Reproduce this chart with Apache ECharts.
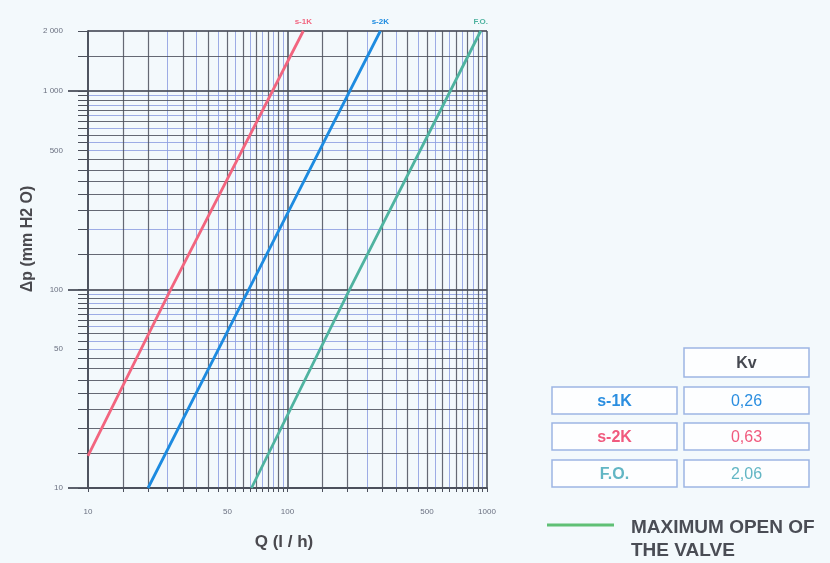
<!DOCTYPE html>
<html><head><meta charset="utf-8">
<script src="https://cdn.jsdelivr.net/npm/echarts@6/dist/echarts.min.js"></script>
<style>html,body{margin:0;padding:0;background:#f3f9fc}#c{width:830px;height:563px}</style>
</head><body><div id="c"></div>
<script>
// ---- data ----
const seriesNames = ['s-1K', 's-2K', 'F.O.'];
const s1kQ = [10, 26, 120];
const s1kDp = [14.5, 100, 2000];
const s2kQ = [20, 64, 292];
const s2kDp = [10, 100, 2000];
const foQ = [66, 205, 930];
const foDp = [10, 100, 2000];
const xTickLabels = [10, 50, 100, 500, 1000];
const yTickLabels = [10, 50, 100, 500, 1000, 2000];
const gridMajorQ = [10, 100, 1000];
const gridDarkQ = [15, 20, 30, 40, 50, 60, 70, 80, 90, 150, 200, 300, 400, 500, 600, 700, 800, 900];
const gridLightQ = [25, 35, 45, 55, 65, 75, 85, 95, 250, 350, 450, 550, 650, 750, 850, 950];
const gridMajorDp = [10, 100, 1000, 2000];
const longTickDp = [10, 100, 1000];
const gridDarkDp = [15, 20, 25, 30, 35, 40, 45, 60, 70, 80, 90, 150, 250, 300, 350, 400, 450, 600, 700, 800, 900, 1500];
const gridLightDp = [50, 55, 65, 75, 85, 95, 200, 500, 550, 650, 750, 850, 950];
const tableHeader = 'Kv';
const tableNames = ['s-1K', 's-2K', 'F.O.'];
const tableKv = ['0,26', '0,63', '2,06'];
const legendText = ['MAXIMUM OPEN OF', 'THE VALVE'];
const xTitle = 'Q (l / h)';
const yTitle = 'Δp (mm H2 O)';

// ---- styling ----
const lineColors = ['#f2657f', '#1d8be0', '#4fb3a0'];
const tableColors = ['#2b8ee0', '#f05a7e', '#62b6c4'];
const dark = '#4b505c';
const light = '#8d9fe0';

const chart = echarts.init(document.getElementById('c'), null, {renderer: 'canvas'});

function zip(a, b) { return a.map((v, i) => [v, b[i]]); }
const seriesData = [zip(s1kQ, s1kDp), zip(s2kQ, s2kDp), zip(foQ, foDp)];

function vLines(vals, color, width) {
  return vals.map(v => ({xAxis: v, lineStyle: {color, width, type: 'solid', opacity: 0.85}}));
}
function hLines(vals, color, width) {
  return vals.map(v => ({yAxis: v, lineStyle: {color, width, type: 'solid', opacity: 0.85}}));
}

const gridMarks = [].concat(
  vLines(gridLightQ, light, 1),
  hLines(gridLightDp, light, 1),
  vLines(gridDarkQ, dark, 1.2),
  hLines(gridDarkDp, dark, 1.2),
  vLines(gridMajorQ, dark, 1.8),
  hLines(gridMajorDp, dark, 1.8)
);

const series = [{
  type: 'line', data: [], silent: true, z: 1,
  markLine: {silent: true, symbol: 'none', label: {show: false}, animation: false, data: gridMarks}
}].concat(seriesData.map((d, i) => ({
  name: seriesNames[i], type: 'line', data: d, z: 5,
  showSymbol: false, symbol: 'none', clip: false,
  lineStyle: {color: lineColors[i], width: 2.8},
  markPoint: {
    symbol: 'circle', symbolSize: 1, silent: true, animation: false,
    itemStyle: {color: 'rgba(0,0,0,0)'},
    label: {show: true, position: 'top', distance: 5, fontSize: 8, color: lineColors[i],
      fontFamily: 'Liberation Sans', fontWeight: 'bold', formatter: seriesNames[i]},
    data: [{coord: d[d.length - 1]}]
  },
  animation: false
})));

const graphics = [];
// axis titles
graphics.push({type: 'text', x: 28, y: 239, rotation: Math.PI / 2,
  style: {text: yTitle, fill: '#4a4a4f', font: 'bold 16px "Liberation Sans"', align: 'center', verticalAlign: 'middle', textAlign: 'center', textVerticalAlign: 'middle'}});
graphics.push({type: 'text', x: 284, y: 542,
  style: {text: xTitle, fill: '#4a4a4f', font: 'bold 17px "Liberation Sans"', align: 'center', verticalAlign: 'middle', textAlign: 'center', textVerticalAlign: 'middle'}});

// table
const boxStyle = {fill: '#fdfeff', stroke: '#9db5e3', lineWidth: 1.5};
function cell(x, y, w, h, text, color, weight) {
  graphics.push({type: 'rect', shape: {x, y, width: w, height: h}, style: boxStyle});
  graphics.push({type: 'text', x: x + w / 2, y: y + h / 2 + 1,
    style: {text, fill: color, font: weight + ' 16px "Liberation Sans"', align: 'center', verticalAlign: 'middle', textAlign: 'center', textVerticalAlign: 'middle'}});
}
cell(684, 348, 125, 29, tableHeader, '#454850', 'bold');
const rowY = [387, 423, 460];
tableNames.forEach((n, i) => {
  cell(552, rowY[i], 125, 27, n, tableColors[i], '600');
  cell(684, rowY[i], 125, 27, tableKv[i], tableColors[i], 'normal');
});

// legend note
graphics.push({type: 'line', shape: {x1: 547, y1: 525, x2: 614, y2: 525}, style: {stroke: '#5fc075', lineWidth: 3}});
legendText.forEach((t, i) => {
  graphics.push({type: 'text', x: 631, y: 528 + i * 23,
    style: {text: t, fill: '#4a4d55', font: 'bold 19px "Liberation Sans"', align: 'left', verticalAlign: 'middle', textAlign: 'left', textVerticalAlign: 'middle'}});
});

const allDp = gridMajorDp.concat(gridDarkDp, gridLightDp);
const allQ = gridMajorQ.concat(gridDarkQ, gridLightQ);

chart.setOption({
  backgroundColor: '#f3f9fc',
  animation: false,
  grid: {left: 88, right: 343, top: 31, bottom: 75, containLabel: false},
  xAxis: {
    type: 'log', logBase: 10, min: 10, max: 1000,
    axisLine: {show: true, lineStyle: {color: dark, width: 1.8}},
    axisTick: {show: true, customValues: allQ, length: 4, lineStyle: {color: dark, width: 1}},
    axisLabel: {customValues: xTickLabels, fontSize: 8, color: '#6a7080', margin: 20, fontFamily: 'Liberation Sans',
      formatter: v => String(Math.round(v))},
    splitLine: {show: false}, minorSplitLine: {show: false}
  },
  yAxis: [{
    type: 'log', logBase: 10, min: 10, max: 2000,
    axisLine: {show: true, lineStyle: {color: dark, width: 1.8}},
    axisTick: {show: true, customValues: allDp, length: 10, lineStyle: {color: dark, width: 1}},
    axisLabel: {customValues: yTickLabels, fontSize: 8, color: '#6a7080', margin: 25, fontFamily: 'Liberation Sans',
      formatter: v => { v = Math.round(v); return v >= 1000 ? (Math.floor(v / 1000) + ' ' + String(v % 1000).padStart(3, '0')) : String(v); }},
    splitLine: {show: false}
  }, {
    type: 'log', logBase: 10, min: 10, max: 2000, position: 'left',
    axisLine: {show: false},
    axisTick: {show: true, customValues: longTickDp, length: 20, lineStyle: {color: dark, width: 1.8}},
    axisLabel: {show: false},
    splitLine: {show: false}
  }],
  series: series,
  graphic: {elements: graphics}
});
</script></body></html>
